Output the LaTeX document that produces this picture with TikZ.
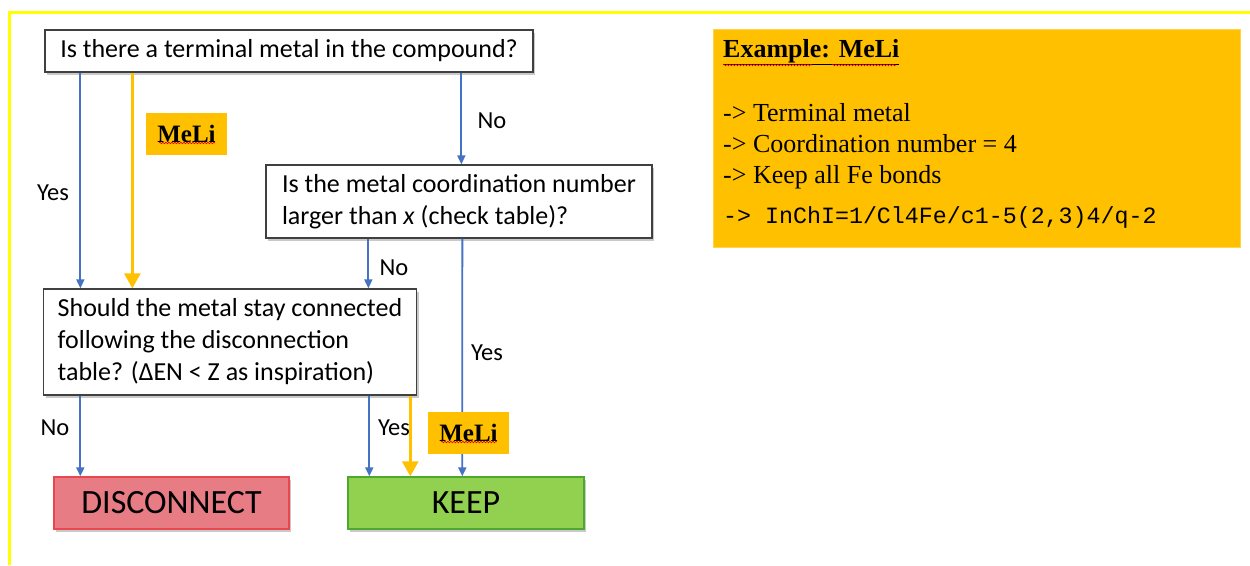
\documentclass[tikz,border=0pt]{standalone}
\usepackage{fontspec}
\setmainfont{Carlito}
\newfontfamily\exfont{Liberation Serif}
\newfontfamily\codefont{Liberation Mono}
\usetikzlibrary{arrows.meta,shadows,decorations.pathmorphing}

\definecolor{flowblue}{HTML}{4472C4}
\definecolor{amber}{HTML}{FFC000}
\definecolor{redfill}{HTML}{E87C85}
\definecolor{redline}{HTML}{E8474F}
\definecolor{greenfill}{HTML}{92D050}
\definecolor{greenline}{HTML}{4EA72E}
\definecolor{framey}{HTML}{FFFF00}

\begin{document}
\begin{tikzpicture}[x=1pt,y=-1pt,
  softshadow/.style={drop shadow={shadow xshift=2pt,shadow yshift=-3pt,opacity=0.3,fill=black!70}},
  question/.style={draw=black!75,line width=1.3pt,fill=white,align=left,
    inner xsep=8pt,inner ysep=0pt,font=\fontsize{26}{32}\selectfont,softshadow},
  outcome/.style={line width=1.4pt,minimum width=235pt,minimum height=52pt,
    inner sep=0pt,font=\fontsize{34}{40}\selectfont,softshadow},
  answer/.style={inner sep=0pt,font=\fontsize{24.5}{28}\selectfont},
  meli/.style={fill=amber,minimum width=81pt,minimum height=42pt,inner sep=0pt,
    font=\exfont\bfseries\fontsize{25}{30}\selectfont},
  exline/.style={anchor=base west,inner sep=0pt,font=\exfont\fontsize{26}{30}\selectfont},
  flow/.style={draw=flowblue,line width=1.8pt,-{Triangle[length=9pt,width=8pt]}},
  meliflow/.style={draw=amber,line width=3pt,-{Triangle[length=15pt,width=16pt]}},
  spell/.style={draw=red!85!black,line width=0.6pt,decorate,
    decoration={snake,amplitude=0.8pt,segment length=3pt}}
]
\useasboundingbox (0,0) rectangle (1250,565);

% outer frame
\draw[framey,line width=3pt] (9,565) -- (9,12) -- (1250,12);

% decision boxes
\node[question,minimum width=488pt,minimum height=42pt] (q1) at (289,51)
  {Is there a terminal metal in the compound?};
\node[question,minimum width=386pt,minimum height=73pt] (q2) at (459,201.5)
  {Is the metal coordination number\\larger than \textit{x} (check table)?};
\node[question,minimum width=373pt,minimum height=106pt] (q3) at (230,342)
  {Should the metal stay connected\\following the disconnection\\table? (ΔEN < Z as inspiration)};

% outcomes
\node[outcome,fill=redfill,draw=redline] (disc) at (171.5,503) {DISCONNECT};
\node[outcome,fill=greenfill,draw=greenline,minimum width=236pt] (keep) at (466,503) {KEEP};

% example panel
\node[fill=amber,draw=amber!70!white,line width=0.8pt,minimum width=527pt,minimum height=218pt] (ex) at (976.5,138) {};
\node[exline,font=\exfont\bfseries\fontsize{26}{30}\selectfont] (extitle) at (723,57) {\underline{Example: MeLi}};
\draw[spell] (723,65) -- (812,65);
\draw[spell] (832,65) -- (896,65);
\node[exline] (ex1) at (723,121) {-> Terminal metal};
\node[exline] (ex2) at (723,152) {-> Coordination number = 4};
\node[exline] (ex3) at (723,183) {-> Keep all Fe bonds};
\node[exline,font=\codefont\fontsize{23.3}{28}\selectfont] (ex4) at (723,223) {-> InChI=1/Cl4Fe/c1-5(2,3)4/q-2};

% connectors
\draw[flow] ([xshift=36pt]q1.south west) -- ([xshift=36pt]q1.south west |- q3.north);
\draw[meliflow] ([xshift=88pt]q1.south west) -- ([xshift=88pt]q1.south west |- q3.north);
\draw[flow] ([xshift=417pt]q1.south west) -- ([xshift=196pt]q2.north west);
\draw[flow] ([xshift=103pt]q2.south west) -- ([xshift=103pt]q2.south west |- q3.north);
\draw[flow] ([xshift=197pt]q2.south west) -- ([xshift=115pt]keep.north west);
\draw[flow] ([xshift=27pt]disc.north west |- q3.south) -- ([xshift=27pt]disc.north west);
\draw[flow] ([xshift=22pt]keep.north west |- q3.south) -- ([xshift=22pt]keep.north west);
\draw[meliflow] ([xshift=63pt]keep.north west |- q3.south) -- ([xshift=63pt]keep.north west);

% branch labels
\node[answer] (l1) at (53,193) {Yes};
\node[answer] (l2) at (492,121) {No};
\node[answer] (l3) at (394,268) {No};
\node[answer] (l4) at (487,353) {Yes};
\node[answer] (l5) at (55,428) {No};
\node[answer] (l6) at (394,428) {Yes};

% example tags on the amber path
\node[meli] (m1) at (186.5,133.5) {MeLi};
\draw[spell] (159,143) -- (215,143);
\node[meli] (m2) at (468.5,433) {MeLi};
\draw[spell] (441,442) -- (497,442);
\end{tikzpicture}
\end{document}
